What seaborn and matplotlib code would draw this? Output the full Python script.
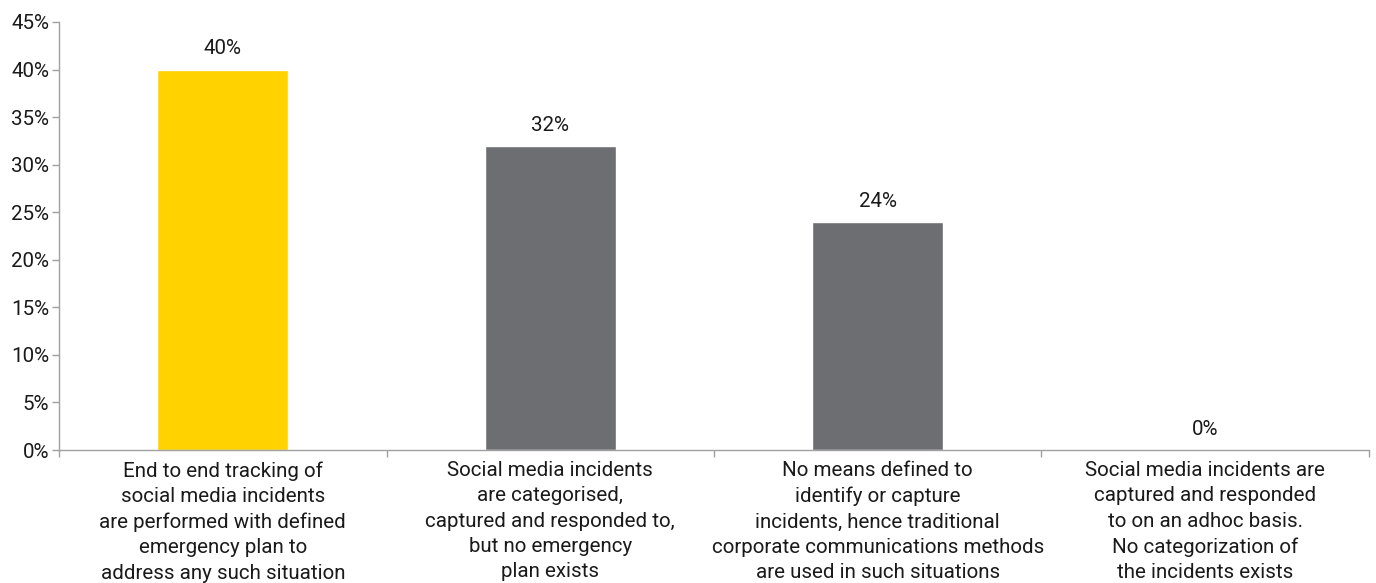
import matplotlib
matplotlib.use("Agg")
import matplotlib.pyplot as plt
import seaborn as sns
import pandas as pd
from matplotlib.ticker import FixedLocator

# data
categories = [
    "End to end tracking of\nsocial media incidents\nare performed with defined\nemergency plan to\naddress any such situation",
    "Social media incidents\nare categorised,\ncaptured and responded to,\nbut no emergency\nplan exists",
    "No means defined to\nidentify or capture\nincidents, hence traditional\ncorporate communications methods\nare used in such situations",
    "Social media incidents are\ncaptured and responded\nto on an adhoc basis.\nNo categorization of\nthe incidents exists",
]
values = [40, 32, 24, 0]
bar_colors = ["#FFD200", "#6D6E71", "#6D6E71", "#6D6E71"]

df = pd.DataFrame({"category": categories, "value": values})

sns.set_style("white")
plt.rcParams["font.family"] = ["Roboto", "DejaVu Sans"]

FS = 14.8
fig = plt.figure(figsize=(13.76, 5.83), dpi=100)
ax = fig.add_axes([0.0429, 0.2281, 0.952, 0.7342])

sns.barplot(data=df, x="category", y="value", hue="category", palette=bar_colors,
            width=0.4, legend=False, ax=ax, saturation=1)

ax.set_xlim(-0.5, 3.5)
ax.set_ylim(0, 45)
ax.set_yticks(range(0, 46, 5))
ax.set_yticklabels([f"{v}%" for v in range(0, 46, 5)], fontsize=FS, color="#1a1a1a")
ax.tick_params(axis="y", length=5, width=1, color="#a0a0a0", pad=2, left=True)
ax.tick_params(axis="x", which="major", length=0, pad=8, labelsize=FS, labelcolor="#1a1a1a")
ax.xaxis.set_minor_locator(FixedLocator([-0.5, 0.5, 1.5, 2.5, 3.5]))
ax.tick_params(axis="x", which="minor", length=5, width=1, color="#a0a0a0", bottom=True)
for lbl in ax.get_xticklabels():
    lbl.set_linespacing(1.42)

for side in ["top", "right"]:
    ax.spines[side].set_visible(False)
for side in ["left", "bottom"]:
    ax.spines[side].set_color("#a0a0a0")
    ax.spines[side].set_linewidth(1)

ax.set_xlabel("")
ax.set_ylabel("")

for i, v in enumerate(values):
    ax.annotate(f"{v}%", (i, v), xytext=(0, 8), textcoords="offset points",
                ha="center", va="bottom", fontsize=FS, color="#1a1a1a")

fig.savefig("out.png", dpi=100)
